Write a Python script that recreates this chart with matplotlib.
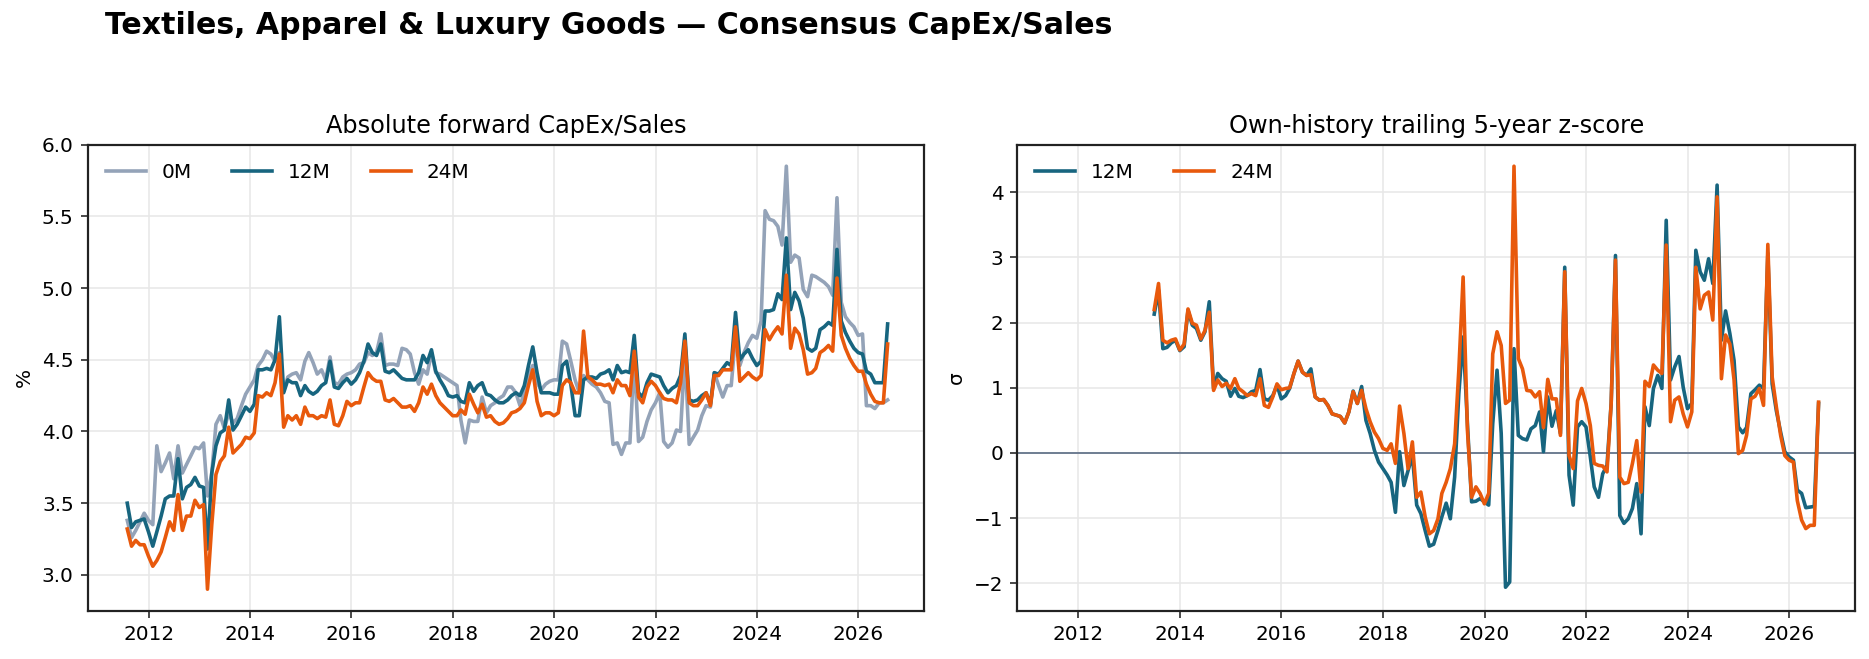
import numpy as np
import pandas as pd
import matplotlib
matplotlib.use("Agg")
import matplotlib.pyplot as plt

# ---------------- data ----------------
dates = pd.date_range("2011-07-31", periods=181, freq="ME")

capex_0m = [
    3.38, 3.26, 3.31, 3.37, 3.43, 3.38, 3.35, 3.90, 3.72, 3.78,
    3.85, 3.67, 3.90, 3.71, 3.77, 3.83, 3.89, 3.88, 3.92, 3.55,
    3.71, 4.05, 4.11, 4.02, 4.13, 4.06, 4.09, 4.18, 4.26, 4.31,
    4.36, 4.46, 4.50, 4.56, 4.54, 4.49, 4.55, 4.28, 4.38, 4.40,
    4.41, 4.36, 4.49, 4.55, 4.48, 4.40, 4.43, 4.36, 4.52, 4.34,
    4.33, 4.38, 4.40, 4.41, 4.43, 4.47, 4.48, 4.55, 4.53, 4.55,
    4.68, 4.46, 4.47, 4.47, 4.46, 4.58, 4.57, 4.54, 4.41, 4.33,
    4.43, 4.40, 4.55, 4.41, 4.40, 4.38, 4.36, 4.34, 4.32, 4.08,
    3.92, 4.08, 4.07, 4.07, 4.24, 4.13, 4.18, 4.20, 4.23, 4.25,
    4.31, 4.31, 4.27, 4.18, 4.27, 4.39, 4.46, 4.34, 4.29, 4.33,
    4.35, 4.36, 4.36, 4.63, 4.61, 4.49, 4.36, 4.27, 4.39, 4.36,
    4.33, 4.31, 4.27, 4.21, 4.20, 3.91, 3.92, 3.84, 3.92, 3.92,
    4.52, 3.93, 3.96, 4.07, 4.15, 4.20, 4.27, 3.93, 3.89, 3.92,
    4.01, 4.00, 4.55, 3.91, 3.96, 4.01, 4.11, 4.18, 4.17, 4.41,
    4.32, 4.24, 4.32, 4.32, 4.67, 4.46, 4.55, 4.62, 4.67, 4.65,
    4.77, 5.54, 5.48, 5.47, 5.43, 5.30, 5.85, 5.18, 5.23, 5.21,
    4.99, 4.94, 5.09, 5.08, 5.06, 5.04, 5.01, 4.95, 5.63, 4.90,
    4.80, 4.76, 4.73, 4.67, 4.68, 4.18, 4.18, 4.16, 4.20, 4.20, 4.22,
]

capex_12m = [
    3.50, 3.33, 3.37, 3.38, 3.39, 3.30, 3.20, 3.30, 3.41, 3.53,
    3.55, 3.55, 3.81, 3.53, 3.61, 3.63, 3.68, 3.62, 3.61, 3.18,
    3.71, 3.90, 3.99, 4.01, 4.22, 4.01, 4.05, 4.11, 4.17, 4.14,
    4.19, 4.43, 4.43, 4.44, 4.43, 4.50, 4.80, 4.27, 4.36, 4.34,
    4.34, 4.25, 4.32, 4.28, 4.26, 4.28, 4.32, 4.34, 4.49, 4.31,
    4.30, 4.34, 4.37, 4.33, 4.36, 4.41, 4.49, 4.61, 4.55, 4.53,
    4.61, 4.42, 4.41, 4.43, 4.40, 4.37, 4.36, 4.36, 4.36, 4.41,
    4.53, 4.48, 4.57, 4.42, 4.36, 4.31, 4.25, 4.24, 4.25, 4.21,
    4.20, 4.34, 4.28, 4.32, 4.34, 4.26, 4.25, 4.22, 4.20, 4.20,
    4.22, 4.25, 4.27, 4.25, 4.32, 4.46, 4.59, 4.41, 4.27, 4.27,
    4.27, 4.26, 4.26, 4.46, 4.49, 4.33, 4.11, 4.11, 4.36, 4.38,
    4.38, 4.37, 4.40, 4.41, 4.43, 4.36, 4.46, 4.41, 4.42, 4.41,
    4.67, 4.27, 4.24, 4.34, 4.40, 4.39, 4.38, 4.32, 4.27, 4.30,
    4.32, 4.39, 4.68, 4.22, 4.21, 4.22, 4.25, 4.27, 4.19, 4.41,
    4.40, 4.44, 4.48, 4.46, 4.83, 4.50, 4.54, 4.57, 4.51, 4.46,
    4.49, 4.84, 4.84, 4.85, 4.96, 4.92, 5.35, 4.85, 4.97, 4.91,
    4.79, 4.58, 4.56, 4.58, 4.71, 4.73, 4.76, 4.74, 5.27, 4.77,
    4.69, 4.63, 4.58, 4.55, 4.54, 4.42, 4.40, 4.34, 4.34, 4.34, 4.75,
]

capex_24m = [
    3.32, 3.20, 3.24, 3.21, 3.21, 3.13, 3.06, 3.10, 3.16, 3.26,
    3.37, 3.31, 3.56, 3.31, 3.41, 3.41, 3.52, 3.47, 3.49, 2.90,
    3.35, 3.70, 3.79, 3.83, 4.03, 3.85, 3.88, 3.91, 3.96, 3.95,
    3.99, 4.25, 4.24, 4.27, 4.25, 4.34, 4.54, 4.03, 4.11, 4.08,
    4.11, 4.05, 4.17, 4.11, 4.11, 4.09, 4.11, 4.10, 4.22, 4.05,
    4.04, 4.11, 4.21, 4.18, 4.20, 4.20, 4.31, 4.41, 4.37, 4.35,
    4.35, 4.22, 4.21, 4.23, 4.20, 4.17, 4.17, 4.18, 4.14, 4.20,
    4.31, 4.26, 4.33, 4.25, 4.20, 4.17, 4.14, 4.11, 4.11, 4.15,
    4.12, 4.26, 4.19, 4.13, 4.19, 4.10, 4.11, 4.07, 4.05, 4.06,
    4.09, 4.13, 4.14, 4.16, 4.20, 4.32, 4.43, 4.21, 4.11, 4.13,
    4.13, 4.11, 4.13, 4.32, 4.36, 4.34, 4.27, 4.27, 4.70, 4.38,
    4.36, 4.33, 4.33, 4.32, 4.33, 4.27, 4.36, 4.32, 4.32, 4.25,
    4.56, 4.24, 4.20, 4.31, 4.35, 4.32, 4.27, 4.23, 4.22, 4.22,
    4.20, 4.34, 4.63, 4.20, 4.18, 4.18, 4.22, 4.27, 4.18, 4.39,
    4.39, 4.43, 4.43, 4.43, 4.73, 4.35, 4.38, 4.41, 4.38, 4.36,
    4.39, 4.71, 4.64, 4.69, 4.73, 4.68, 5.09, 4.58, 4.72, 4.68,
    4.57, 4.40, 4.41, 4.44, 4.55, 4.57, 4.60, 4.56, 5.07, 4.67,
    4.58, 4.51, 4.46, 4.42, 4.42, 4.33, 4.26, 4.21, 4.20, 4.20, 4.61,
]

# z-scores start 23 months after the first date
z_start = 23
z_12m = [
    2.13, 2.50, 1.60, 1.62, 1.69, 1.73, 1.57,
    1.63, 2.19, 1.96, 1.91, 1.73, 1.86, 2.32, 0.99, 1.22, 1.14,
    1.10, 0.87, 0.99, 0.87, 0.85, 0.88, 0.94, 0.96, 1.28, 0.83,
    0.81, 0.88, 1.04, 0.83, 0.88, 0.99, 1.22, 1.41, 1.24, 1.19,
    1.29, 0.86, 0.81, 0.82, 0.73, 0.60, 0.58, 0.56, 0.46, 0.63,
    0.95, 0.76, 1.02, 0.50, 0.30, 0.04, -0.14, -0.24, -0.34, -0.45,
    -0.91, 0.02, -0.50, -0.27, -0.04, -0.80, -0.93, -1.19, -1.43, -1.40,
    -1.19, -0.98, -0.77, -1.01, -0.37, 0.91, 1.78, 0.45, -0.75, -0.74,
    -0.70, -0.75, -0.80, 0.45, 1.27, 0.30, -2.06, -1.98, 1.60, 0.27,
    0.22, 0.20, 0.37, 0.42, 0.63, 0.02, 0.86, 0.41, 0.65, 0.30,
    2.85, -0.34, -0.80, 0.40, 0.48, 0.40, -0.06, -0.52, -0.68, -0.32,
    -0.19, 0.76, 3.03, -0.96, -1.08, -1.01, -0.85, -0.47, -1.24, 0.71,
    0.42, 0.99, 1.19, 0.99, 3.57, 1.12, 1.32, 1.48, 1.01, 0.68,
    0.76, 3.11, 2.78, 2.65, 2.98, 2.60, 4.11, 1.73, 2.18, 1.83,
    1.42, 0.40, 0.31, 0.39, 0.91, 0.97, 1.04, 0.99, 3.06, 1.06,
    0.65, 0.32, 0.02, -0.06, -0.11, -0.57, -0.62, -0.84, -0.83, -0.82, 0.76,
]
z_24m = [
    2.20, 2.60, 1.73, 1.69, 1.73, 1.75, 1.58,
    1.67, 2.21, 1.99, 1.96, 1.75, 1.88, 2.16, 0.96, 1.12, 1.02,
    1.07, 0.99, 1.14, 0.99, 0.94, 0.88, 0.91, 0.88, 1.14, 0.73,
    0.70, 0.86, 1.06, 0.97, 0.99, 1.00, 1.22, 1.41, 1.24, 1.19,
    1.20, 0.86, 0.81, 0.82, 0.73, 0.60, 0.58, 0.56, 0.46, 0.63,
    0.94, 0.76, 0.96, 0.68, 0.48, 0.32, 0.22, 0.07, 0.04, 0.14,
    -0.16, 0.72, 0.30, -0.24, 0.17, -0.68, -0.60, -0.98, -1.24, -1.19,
    -1.01, -0.62, -0.45, -0.24, 0.14, 1.27, 2.70, 0.35, -0.68, -0.52,
    -0.62, -0.78, -0.62, 1.52, 1.86, 1.65, 0.76, 0.81, 4.40, 1.45,
    1.29, 0.96, 0.95, 0.86, 0.94, 0.39, 1.13, 0.83, 0.83, 0.27,
    2.78, -0.04, -0.24, 0.80, 0.99, 0.76, 0.42, -0.16, -0.19, -0.20,
    -0.29, 0.76, 2.96, -0.37, -0.47, -0.45, -0.16, 0.19, -0.60, 1.10,
    1.02, 1.35, 1.27, 1.22, 3.19, 0.48, 0.81, 0.86, 0.60, 0.40,
    0.63, 2.85, 2.21, 2.42, 2.47, 2.04, 3.93, 1.14, 1.81, 1.67,
    1.12, -0.01, 0.04, 0.27, 0.83, 0.87, 0.99, 0.73, 3.20, 1.17,
    0.71, 0.27, -0.04, -0.11, -0.14, -0.73, -1.03, -1.16, -1.11, -1.11, 0.78,
]
z_dates = dates[z_start:]

title = "Textiles, Apparel & Luxury Goods \u2014 Consensus CapEx/Sales"
left_title = "Absolute forward CapEx/Sales"
right_title = "Own-history trailing 5-year z-score"

# ---------------- style ----------------
C_GRAY = "#94a3b8"
C_TEAL = "#17657f"
C_ORANGE = "#e8590c"
C_ZERO = "#64748b"
LW = 1.8
DPI = 144

plt.rcParams["font.family"] = ["DejaVu Sans"]
W, H = 1869, 659
fig = plt.figure(figsize=(W / DPI, H / DPI), dpi=DPI)
ax1 = fig.add_axes([87.7 / W, 1 - 610.7 / H, (924 - 87.7) / W, (610.7 - 144.7) / H])
ax2 = fig.add_axes([1017.3 / W, 1 - 610.7 / H, (1855 - 1017.3) / W, (610.7 - 144.7) / H])

ax1.plot(dates, capex_0m, color=C_GRAY, lw=LW, label="0M")
ax1.plot(dates, capex_12m, color=C_TEAL, lw=LW, label="12M")
ax1.plot(dates, capex_24m, color=C_ORANGE, lw=LW, label="24M")
ax1.set_ylim(2.75, 6.0)
ax1.set_yticks(np.arange(3.0, 6.01, 0.5))
ax1.yaxis.set_major_formatter(matplotlib.ticker.FormatStrFormatter("%.1f"))
ax1.set_ylabel("%", fontsize=10)
ax1.set_title(left_title, fontsize=12)

ax2.axhline(0, color=C_ZERO, lw=0.9)
ax2.plot(z_dates, z_12m, color=C_TEAL, lw=LW, label="12M")
ax2.plot(z_dates, z_24m, color=C_ORANGE, lw=LW, label="24M")
ax2.set_ylim(-2.42, 4.73)
ax2.set_yticks(np.arange(-2, 4.1, 1))
ax2.set_ylabel("\u03c3", fontsize=10)
ax2.set_title(right_title, fontsize=12)

xlo = pd.Timestamp("2010-10-19")
xhi = pd.Timestamp("2027-04-19")
for ax in (ax1, ax2):
    ax.set_xlim(xlo, xhi)
    ax.set_xticks([pd.Timestamp(f"{y}-01-01") for y in range(2012, 2027, 2)])
    ax.set_xticklabels([str(y) for y in range(2012, 2027, 2)])
    ax.grid(True, color="#e8e8e8", lw=0.8)
    ax.set_axisbelow(True)
    for s in ax.spines.values():
        s.set_color("#222222")
        s.set_linewidth(1.1)
    ax.tick_params(labelsize=10, color="#222222")
    ax.legend(loc="upper left", ncol=3, frameon=False, fontsize=10)

fig.text(105 / W, 1 - 26 / H, title, ha="left", va="center",
         fontsize=15, fontweight="bold")

fig.savefig("out.png", dpi=DPI)
